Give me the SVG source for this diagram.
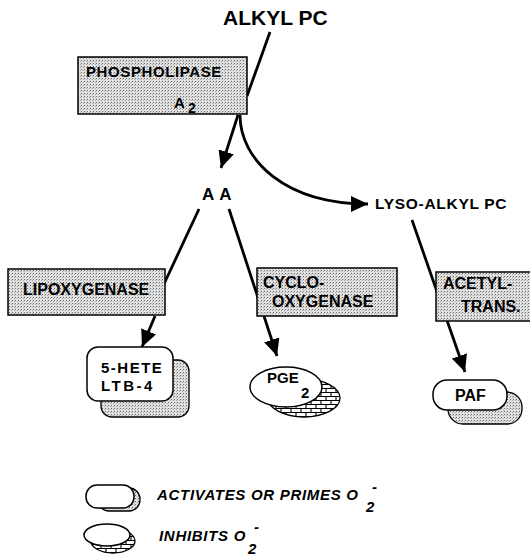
<svg xmlns="http://www.w3.org/2000/svg" width="530" height="557" viewBox="0 0 530 557">
<defs>
<pattern id="stip" width="3" height="3" patternUnits="userSpaceOnUse">
<rect width="3" height="3" fill="#e0e0e0"/>
<rect x="0" y="0" width="1" height="1" fill="#6a6a6a"/>
<rect x="2" y="1" width="1" height="1" fill="#a8a8a8"/>
</pattern>
<pattern id="brick" width="10" height="8" patternUnits="userSpaceOnUse">
<rect width="10" height="8" fill="#fff"/>
<path d="M0,0.5 H10 M0,4.5 H10 M1,0.5 V4.5 M6,4.5 V8" stroke="#000" stroke-width="1.1" fill="none"/>
</pattern>
<marker id="arr" markerUnits="userSpaceOnUse" markerWidth="18" markerHeight="16" refX="17" refY="8" orient="auto">
<path d="M0,0 L17,8 L0,16 z" fill="#000"/>
</marker>
<style>
text{font-family:"Liberation Sans",Arial,Helvetica,sans-serif;font-weight:bold;fill:#000}
.box{fill:url(#stip);stroke:#000;stroke-width:1.5}
.front{fill:#fff;stroke:#000;stroke-width:1.5}
.shadowS{fill:url(#stip);stroke:#000;stroke-width:1.3}
.shadowB{fill:url(#brick);stroke:#000;stroke-width:1.3}
.conn{fill:none;stroke:#000;stroke-width:2.8}
.leg{font-style:italic;font-size:15px;letter-spacing:0.7px}
</style>
</defs>
<rect width="530" height="557" fill="#fff"/>

<g id="connectors">
<line class="conn" x1="270" y1="32" x2="247" y2="96"/>
<line class="conn" x1="238" y1="115" x2="221" y2="168" marker-end="url(#arr)"/>
<path class="conn" d="M240,115 C240,160 285,204 368,204" marker-end="url(#arr)"/>
<line class="conn" x1="199" y1="209" x2="164" y2="284"/>
<line class="conn" x1="155" y1="316" x2="142" y2="347" marker-end="url(#arr)"/>
<line class="conn" x1="229" y1="209" x2="277" y2="356" marker-end="url(#arr)"/>
<line class="conn" x1="412" y1="220" x2="465" y2="372" marker-end="url(#arr)"/>
</g>

<g id="alkyl-pc"><text x="223" y="25" font-size="21">ALKYL PC</text></g>

<g id="phospholipase">
<rect class="box" x="78" y="57" width="169" height="57"/>
<text x="86" y="77" font-size="15" letter-spacing="0.6">PHOSPHOLIPASE</text>
<text x="174" y="108" font-size="15">A</text>
<text x="188" y="113" font-size="14">2</text>
</g>

<g id="aa"><text x="202" y="200" font-size="17" letter-spacing="5">AA</text></g>

<g id="lyso-alkyl-pc"><text x="375" y="209" font-size="15.5" letter-spacing="0.7">LYSO-ALKYL PC</text></g>

<g id="lipoxygenase">
<rect class="box" x="8" y="269" width="157" height="46"/>
<text x="23" y="295" font-size="16">LIPOXYGENASE</text>
</g>

<g id="cyclooxygenase">
<rect class="box" x="257" y="268" width="140" height="48"/>
<text x="263" y="288" font-size="16">CYCLO-</text>
<text x="272" y="307" font-size="16">OXYGENASE</text>
</g>

<g id="acetyltrans">
<rect class="box" x="436" y="272" width="100" height="49"/>
<text x="443" y="289" font-size="16">ACETYL-</text>
<text x="461" y="312" font-size="16">TRANS.</text>
</g>

<g id="hete-ltb4">
<rect class="shadowS" x="101" y="360" width="88" height="57" rx="11"/>
<rect class="front" x="87" y="347" width="86" height="54" rx="11"/>
<text x="101" y="373" font-size="15" letter-spacing="1.5">5-HETE</text>
<text x="101" y="391" font-size="15" letter-spacing="2.5">LTB-4</text>
</g>

<g id="pge2">
<ellipse class="shadowB" cx="304" cy="398" rx="36" ry="19"/>
<ellipse class="front" cx="286" cy="387" rx="36" ry="20"/>
<text x="267" y="383" font-size="15">PGE</text>
<text x="301" y="398" font-size="15">2</text>
</g>

<g id="paf">
<rect class="shadowS" x="448" y="392" width="74" height="32" rx="15"/>
<rect class="front" x="433" y="380" width="74" height="30" rx="14"/>
<text x="455" y="401" font-size="16">PAF</text>
</g>

<g id="legend-activates">
<rect class="shadowS" x="98" y="488" width="42" height="23" rx="11"/>
<rect class="front" x="86" y="485" width="48" height="23" rx="11"/>
<text class="leg" x="157" y="500">ACTIVATES OR PRIMES O</text>
<text class="leg" x="366" y="512" font-size="14">2</text>
<text class="leg" x="372" y="492" font-size="13">-</text>
</g>

<g id="legend-inhibits">
<ellipse class="shadowB" cx="113" cy="541" rx="22" ry="12"/>
<ellipse class="front" cx="107" cy="535" rx="23" ry="11"/>
<text class="leg" x="159" y="541">INHIBITS O</text>
<text class="leg" x="248" y="554" font-size="14">2</text>
<text class="leg" x="254" y="532" font-size="13">-</text>
</g>
</svg>
